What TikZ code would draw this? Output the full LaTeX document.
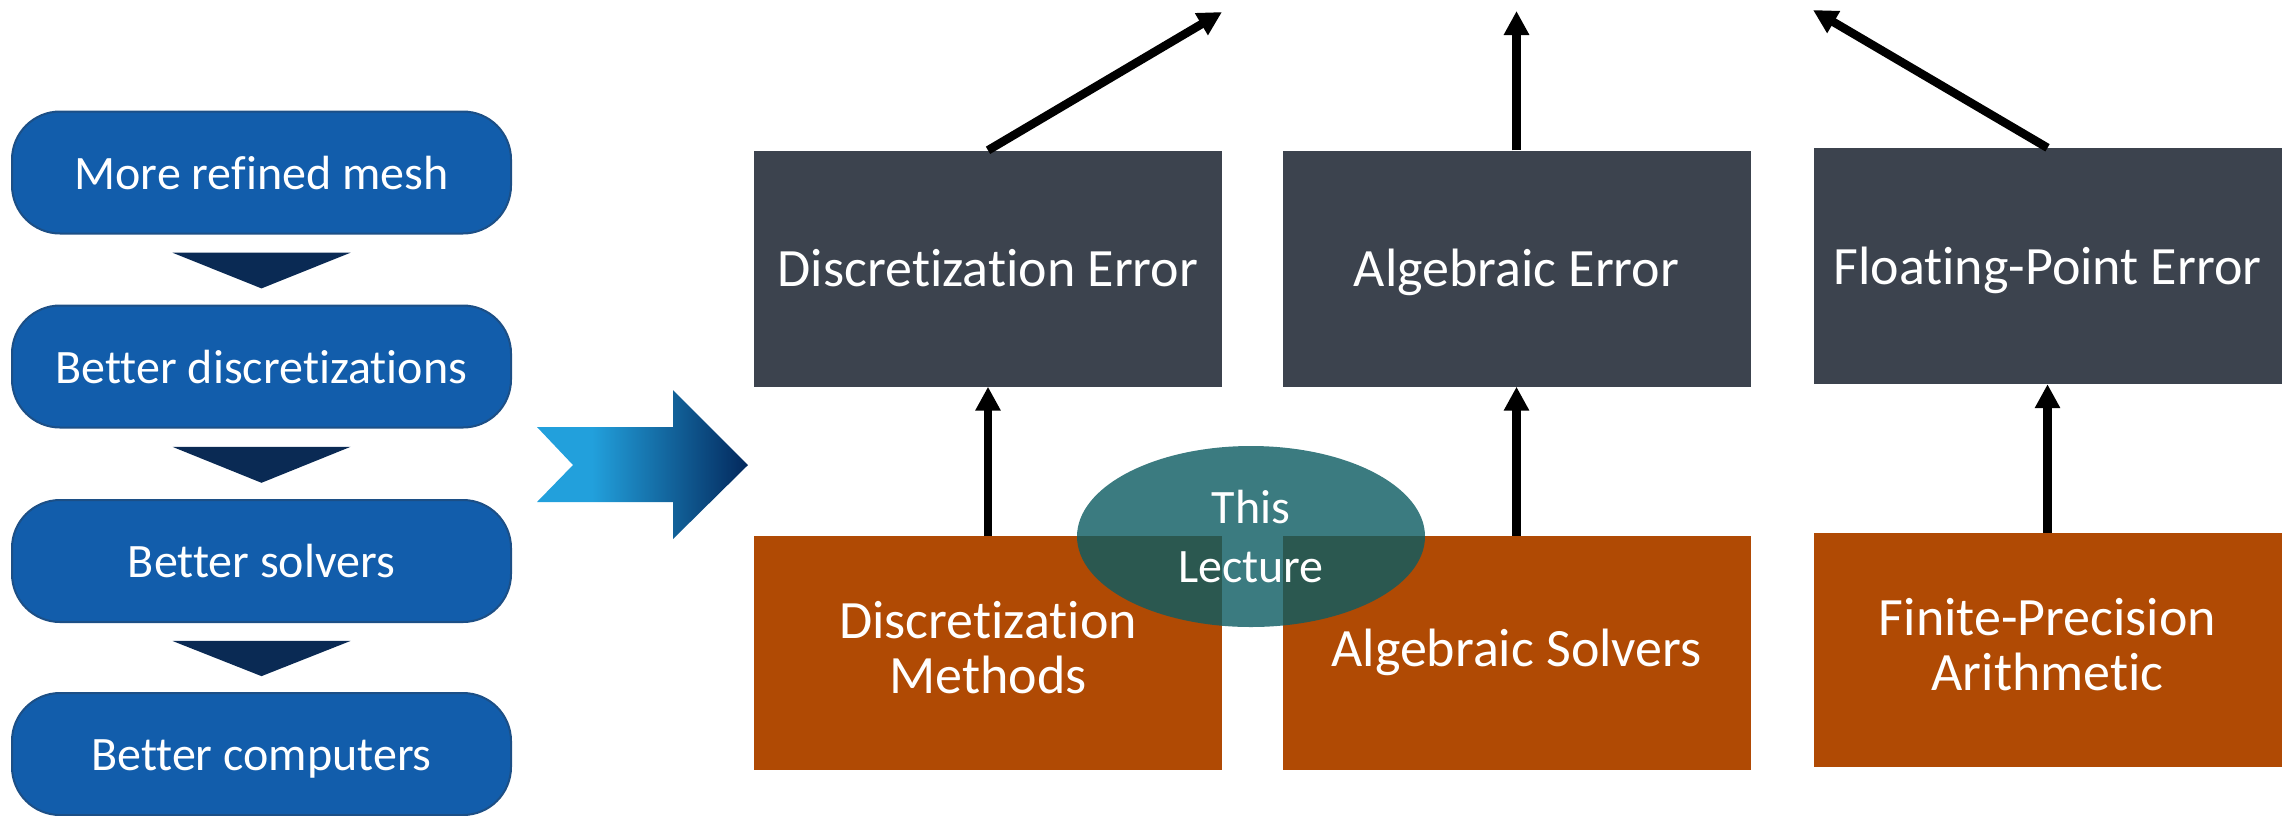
\documentclass[tikz,border=0pt]{standalone}
\usepackage{fontspec}
\setmainfont{Carlito}[Ligatures=NoCommon]
\usetikzlibrary{arrows.meta,shapes.geometric,calc}

\definecolor{stepblue}{HTML}{125DAB}
\definecolor{stepedge}{HTML}{1C4F86}
\definecolor{chevron}{HTML}{0A2A54}
\definecolor{errgrey}{HTML}{3C434E}
\definecolor{srcorange}{HTML}{B04A04}
\definecolor{lecteal}{HTML}{0D5C62}
\definecolor{flowlight}{HTML}{22A0DC}
\definecolor{flowdark}{HTML}{03285C}

\pgfdeclarehorizontalshading{flowshade}{100bp}{%
  color(0bp)=(flowlight); color(25bp)=(flowlight); color(38bp)=(flowlight);
  color(75bp)=(flowdark); color(100bp)=(flowdark)}

\tikzset{
  txt/.style={text=white, align=center, text depth=0pt},
  bigtxt/.style={txt, font=\fontsize{54}{55}\selectfont},
  smalltxt/.style={txt, font=\fontsize{48}{59}\selectfont},
  stepbox/.style={smalltxt, text height=33.6pt, draw=stepedge, line width=2pt, fill=stepblue,
    rounded corners=48pt, minimum width=499pt, minimum height=122pt, inner sep=0pt},
  errbox/.style={bigtxt, text height=36.4pt, fill=errgrey,
    minimum width=468pt, minimum height=236pt, inner sep=0pt},
  srcbox/.style={bigtxt, text height=80.6pt, fill=srcorange,
    minimum width=468pt, minimum height=234pt, inner sep=0pt},
  tri/.style={fill=chevron},
  arr/.style={line width=8.5pt, -{Triangle[length=24pt,width=24pt]}},
  lecture/.style={smalltxt, text height=91pt, ellipse, fill=lecteal,
    fill opacity=0.81, text opacity=1,
    minimum width=348pt, minimum height=181pt, inner sep=0pt}
}

\begin{document}
\begin{tikzpicture}[x=1pt, y=-1pt]
\useasboundingbox (0,0) rectangle (2290,815);

% left column: sources of improvement
\node[stepbox] (s1) at (261.5,172.5) {More refined mesh};
\node[stepbox] (s2) at (261.5,366.5) {Better discretizations};
\node[stepbox] (s3) at (261.5,561) {Better solvers};
\node[stepbox] (s4) at (261.5,754) {Better computers};

% downward chevrons between the steps
\foreach \a/\b in {s1/s2, s2/s3, s3/s4}{
  \path (\a.south) -- (\b.north) coordinate[pos=0.26] (t) coordinate[pos=0.77] (tip);
  \fill[tri] ($(t)+(-89,0)$) -- ($(t)+(89,0)$) -- (tip) -- cycle;
}

% big shaded arrow
\shade[shading=flowshade] (537,427) -- (673,427) -- (673,390) -- (748,465)
  -- (673,539) -- (673,502) -- (537,502) -- (573,465) -- cycle;

% error boxes
\node[errbox] (e1) at (988,268.5) {Discretization Error};
\node[errbox] (e2) at (1516.5,268.5) {Algebraic Error};
\node[errbox] (e3) at (2047.5,266) {Floating-Point Error};

% source boxes
\node[srcbox] (m1) at (988,653) {Discretization\\Methods};
\node[srcbox, text height=27.4pt] (m2) at (1516.5,653) {Algebraic Solvers};
\node[srcbox] (m3) at (2047.5,650) {Finite-Precision\\Arithmetic};

% connectors
\draw[arr] (m1.north) -- (e1.south);
\draw[arr] (m2.north) -- (e2.south);
\draw[arr] (m3.north) -- (e3.south);

\coordinate (o1) at (1222,12);
\coordinate (o2) at (1516.5,11);
\coordinate (o3) at (1813,10);
\draw[arr] (e1.north) -- (o1);
\draw[arr] (e2.north) -- (o2);
\draw[arr] (e3.north) -- (o3);

% highlight
\node[lecture] (lec) at (1251,536.5) {This\\Lecture};
\end{tikzpicture}
\end{document}
